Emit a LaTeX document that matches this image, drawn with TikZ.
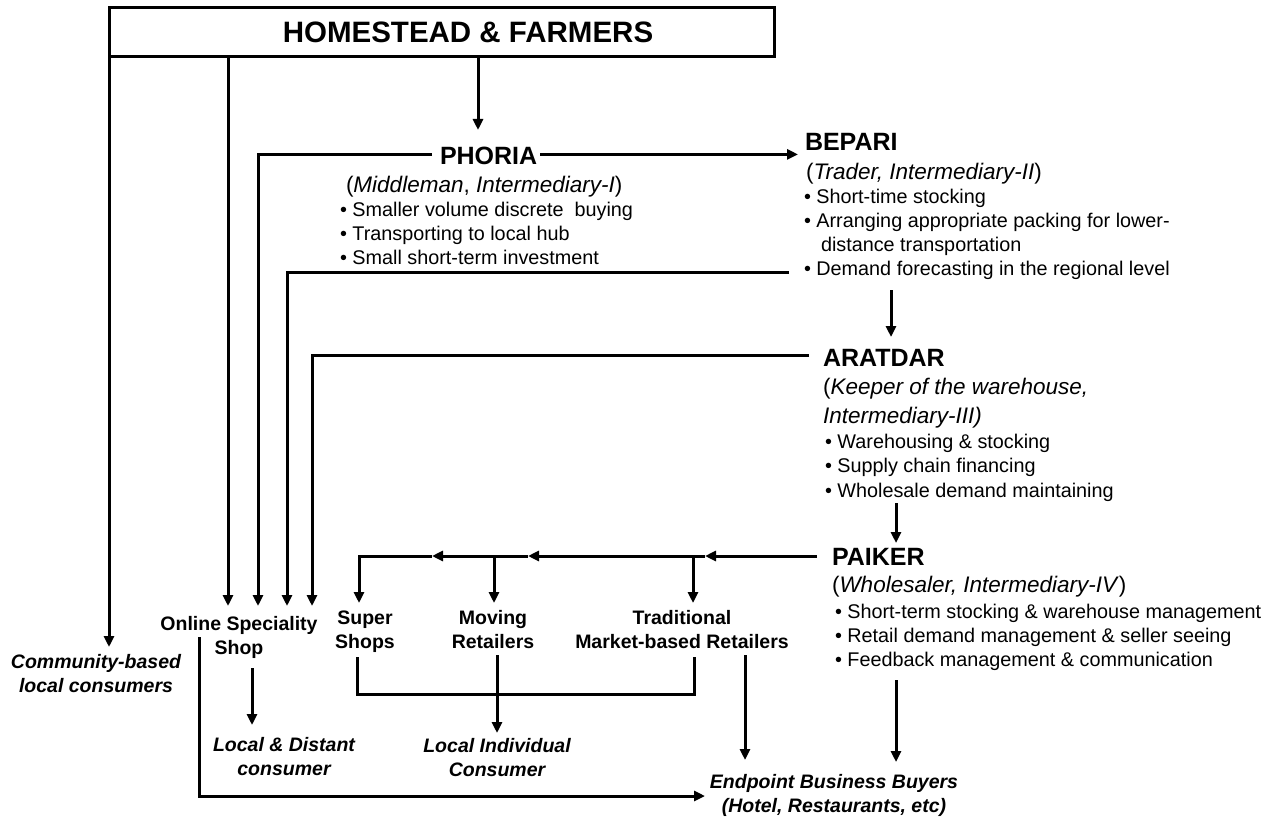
\documentclass[tikz,border=0pt]{standalone}
\usepackage{fontspec}
\setmainfont{Liberation Sans}
\usetikzlibrary{arrows.meta}
\newcommand{\colc}[1]{\begin{tabular}[t]{@{}c@{}}#1\end{tabular}}
\newcommand{\coll}[1]{\begin{tabular}[t]{@{}l@{}}#1\end{tabular}}
\begin{document}
\begin{tikzpicture}[x=1pt,y=-1pt,
  ln/.style={line width=3pt},
  arr/.style={line width=3pt,-{Triangle[length=11pt,width=10pt]}},
  txt/.style={inner sep=0pt,outer sep=0pt},
  ttl/.style={txt,anchor=base,font=\fontsize{29.5}{34}\selectfont\bfseries},
  head/.style={txt,anchor=base west,font=\fontsize{25}{30}\selectfont\bfseries},
  sub/.style={txt,anchor=base west,font=\fontsize{22.5}{29}\selectfont},
  bul/.style={txt,anchor=base west,font=\fontsize{19.8}{24}\selectfont},
  lbl/.style={txt,anchor=base,font=\fontsize{19.5}{24}\selectfont\bfseries},
  cons/.style={txt,anchor=base,font=\fontsize{19.5}{24}\selectfont\bfseries\itshape},
]
\useasboundingbox (0,0) rectangle (1276,818);

% top box
\node[draw,line width=3pt,minimum width=665pt,minimum height=49pt,anchor=north west,inner sep=0pt,outer sep=0pt] (home) at (109,8) {};
\node[ttl] (hometext) at (468,43) {HOMESTEAD \& FARMERS};

% PHORIA
\node[head] (phoria) at (440,165) {PHORIA};
\node[sub] (phoriasub) at (346,193) {(\textit{Middleman}, \textit{Intermediary-I})};
\node[bul] (phoriabul) at (340,217) {\coll{• Smaller volume discrete\ \ buying\\• Transporting to local hub\\• Small short-term investment}};

% BEPARI
\node[head] (bepari) at (805,151) {BEPARI};
\node[sub] (beparisub) at (806,180) {(\textit{Trader, Intermediary-II})};
\node[bul] (beparibul) at (804,204) {\coll{• Short-time stocking\\• Arranging appropriate packing for lower-\\\hspace*{17pt}distance transportation\\• Demand forecasting in the regional level}};

% ARATDAR
\node[head] (aratdar) at (823,366) {ARATDAR};
\node[sub] (aratsub) at (823,394) {\coll{(\textit{Keeper of the warehouse,}\\\textit{Intermediary-III)}}};
\node[bul,font=\fontsize{19.8}{24.5}\selectfont] (aratbul) at (825,448) {\coll{• Warehousing \& stocking\\• Supply chain financing\\• Wholesale demand maintaining}};

% PAIKER
\node[head] (paiker) at (832,565) {PAIKER};
\node[sub] (paikersub) at (832,592) {(\textit{Wholesaler, Intermediary-IV})};
\node[bul] (paikerbul) at (835,618) {\coll{• Short-term stocking \& warehouse management\\• Retail demand management \& seller seeing\\• Feedback management \& communication}};

% bottom labels
\node[cons] (comm) at (96,668) {\colc{Community-based\\local consumers}};
\node[lbl] (online) at (239,630) {\colc{Online Speciality\\Shop}};
\node[cons] (ldc) at (284,751) {\colc{Local \& Distant\\consumer}};
\node[lbl] (super) at (365,624) {\colc{Super\\Shops}};
\node[lbl] (moving) at (493,624) {\colc{Moving\\Retailers}};
\node[lbl] (trad) at (682,624) {\colc{Traditional\\Market-based Retailers}};
\node[cons] (lic) at (497,752) {\colc{Local Individual\\Consumer}};
\node[cons] (endp) at (834,788) {\colc{Endpoint Business Buyers\\(Hotel, Restaurants, etc)}};

% coordinates
\coordinate (tComm) at (109,647);
\coordinate (tOnA) at (228,606);
\coordinate (tOnB) at (258,606);
\coordinate (tOnC) at (287,606);
\coordinate (tOnD) at (312,606);
\coordinate (tPh) at (478,130);
\coordinate (cBep) at (789,272);
\coordinate (bA1) at (891,290);
\coordinate (bA2) at (891,337);
\coordinate (aP1) at (896,503);
\coordinate (aP2) at (896,543);
\coordinate (m1) at (705,556);
\coordinate (m2) at (528,556);
\coordinate (m3) at (432,556);
\coordinate (cS) at (359,556);
\coordinate (tS) at (359,603);
\coordinate (tM) at (494,603);
\coordinate (tT) at (693,603);
\coordinate (brA) at (357,657);
\coordinate (brB) at (357,694);
\coordinate (brC) at (694,694);
\coordinate (brD) at (694,657);
\coordinate (mv1) at (497,655);
\coordinate (mv2) at (497,733);
\coordinate (tr1) at (745,655);
\coordinate (tr2) at (745,760);
\coordinate (pk1) at (896,680);
\coordinate (pk2) at (896,762);
\coordinate (ol1) at (252,668);
\coordinate (ol2) at (252,725);
\coordinate (oe1) at (199,637);
\coordinate (oe2) at (199,796);
\coordinate (oe3) at (705,796);

% connectors from top box
\draw[arr] (home.south west) -- (tComm);
\draw[arr] (home.south -| tOnA) -- (tOnA);
\draw[arr] (home.south -| tPh) -- (tPh);

% PHORIA connectors
\draw[arr] ([xshift=-8pt,yshift=2pt]phoria.west) -| (tOnB);
\draw[arr,shorten >=7pt] ([xshift=3pt,yshift=2pt]phoria.east) -- ([yshift=2pt]phoria.east -| bepari.west);

% BEPARI connectors
\draw[arr] (cBep) -| (tOnC);
\draw[arr] (bA1) -- (bA2);

% ARATDAR connectors
\draw[arr] ([xshift=-14pt,yshift=2pt]aratdar.west) -| (tOnD);
\draw[arr] (aP1) -- (aP2);

% PAIKER connectors
\draw[arr] ([xshift=-15pt]paiker.west |- m1) -- (m1);
\draw[arr] (m1) -- (m2);
\draw[arr] (m2) -- (m3);
\draw[arr] (m3) -- (cS) -- (tS);
\draw[arr] (m2 -| tM) -- (tM);
\draw[arr] (m1 -| tT) -- (tT);
\draw[arr] (pk1) -- (pk2);

% retailers
\draw[ln] (brA) -- (brB) -- (brC) -- (brD);
\draw[arr] (mv1) -- (mv2);
\draw[arr] (tr1) -- (tr2);

% online shop
\draw[arr] (ol1) -- (ol2);
\draw[arr] (oe1) -- (oe2) -- (oe3);
\end{tikzpicture}
\end{document}
